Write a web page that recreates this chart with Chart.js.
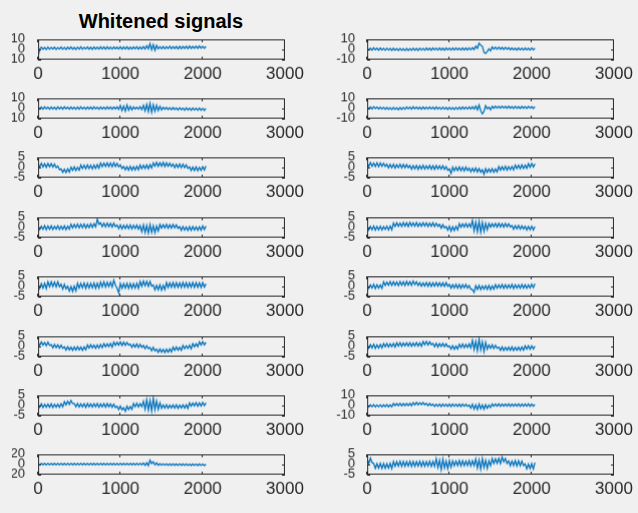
<!DOCTYPE html>
<html>
<head>
<meta charset="utf-8">
<title>Whitened signals</title>
<script src="https://cdn.jsdelivr.net/npm/chart.js@4.4.0/dist/chart.umd.min.js"></script>
<style>
  body { margin: 0; width: 638px; height: 513px; background: #f0f0f0; overflow: hidden; position: relative; }
  #title { position: absolute; left: 38px; width: 246px; top: 10px; text-align: center;
           font: bold 20px "Liberation Sans", Arial, sans-serif; color: #000; }
  canvas { position: absolute; }
</style>
</head>
<body>
<div id="title">Whitened signals</div>
<script>
// one value every 20 samples, subplot order is row by row (left, right)
const step = 20;
const xTicks = [0, 1000, 2000, 3000];
const yLims = [10, 10, 10, 10, 5, 5, 5, 5, 5, 5, 5, 5, 5, 10, 20, 5];

const w1 = [-7, 0.2, 2.0, 0.1, 1.8, -0.2, 2.2, 0.0, 1.9, 0.3, 2.1, -0.1, 1.7, 0.2, 2.3, 0.0, 1.9, -0.2, 2.0, 0.3,
  2.2, 0.1, 1.8, -0.1, 2.1, 0.2, 2.4, 0.0, 1.9, 0.4, 2.2, 0.1, 2.0, -0.1, 2.3, 0.3, 2.1, 0.2, 2.5, 0.4,
  2.2, 0.1, 2.4, 0.3, 2.0, 0.2, 2.3, 0.5, 2.1, 0.3, 2.4, 0.1, 2.2, 0.4, 2.5, 0.2, 2.0, 0.3, 2.3, 0.5,
  2.4, 0.2, 2.2, 0.4, 2.6, 0.3, 3.5, 0.5, 5.5, -0.5, 4.5, -1.0, 3.8, 0.5, 2.6, 0.6, 2.8, 0.5, 2.5, 0.7,
  2.9, 0.6, 2.6, 0.8, 2.8, 0.5, 3.0, 0.7, 2.7, 0.9, 2.9, 0.6, 3.1, 0.8, 2.8, 1.0, 3.0, 0.9, 3.2, 1.1,
  2.9, 1.0, 2.8];
const w2 = [1.3, -0.6, 1.1, -0.8, 1.4, -0.5, 1.0, -0.9, 1.2, -0.7, 0.9, -1.0, 1.1, -0.8, 0.8, -1.1, 1.0, -0.9, 0.7, -1.2,
  0.9, -1.0, 0.6, -1.3, 0.8, -1.1, 0.7, -1.0, 1.0, -0.9, 0.8, -1.1, 1.1, -0.8, 0.9, -1.0, 1.2, -0.7, 1.0, -0.9,
  1.3, -0.6, 1.1, -0.8, 1.2, -0.7, 1.0, -0.9, 1.3, -0.6, 1.1, -0.8, 1.2, -0.7, 1.4, -0.5, 1.1, -0.8, 1.3, -0.6,
  1.2, -0.7, 1.4, -0.5, 1.6, -0.2, 3.0, 1.0, 6.0, 4.0, 3.0, -3.0, -4.0, -2.0, 0.5, -1.5, 2.2, 0.2, 2.0, 0.0,
  2.1, 0.1, 1.8, -0.1, 1.9, 0.0, 1.5, -0.4, 1.3, -0.6, 1.1, -0.7, 1.3, -0.6, 1.1, -0.8, 1.2, -0.6, 1.0, -0.8,
  1.2, -0.6, 1.1];
const w3 = [1.4, -0.6, 1.2, -0.8, 1.5, -0.5, 1.1, -0.9, 1.3, -0.7, 1.0, -1.0, 1.4, -0.6, 1.2, -0.8, 1.5, -0.4, 1.1, -0.9,
  1.3, -0.7, 1.0, -1.0, 1.2, -0.8, 1.4, -0.6, 1.1, -0.9, 1.3, -0.7, 1.2, -0.8, 1.4, -0.6, 1.0, -1.0, 1.3, -0.7,
  1.1, -0.9, 1.4, -0.6, 1.2, -0.8, 1.3, -0.7, 1.5, -1.0, 2.8, -2.2, 2.2, -2.8, 3.2, -1.8, 1.8, -1.5, 1.3, -0.7,
  1.1, -0.9, 1.6, -1.2, 2.8, -2.5, 3.8, -3.2, 4.8, -4.0, 3.5, -3.0, 3.0, -2.2, 2.0, -1.5, 1.0, -1.0, 0.8, -1.2,
  0.6, -1.4, 0.8, -1.2, 0.4, -1.6, 0.6, -1.4, 0.2, -1.8, 0.4, -1.6, 0.1, -1.9, 0.3, -1.8, 0.0, -2.0, 0.2, -1.9,
  -0.1, -2.1, 0.0];
const w4 = [1.5, -0.4, 1.3, -0.6, 1.6, -0.3, 1.2, -0.7, 1.1, -0.8, 0.9, -1.0, 0.8, -1.1, 0.6, -1.3, 0.8, -1.1, 0.5, -1.4,
  0.7, -1.2, 0.9, -1.0, 1.3, -0.6, 1.1, -0.8, 1.5, -0.4, 1.2, -0.7, 1.0, -0.9, 1.2, -0.7, 1.1, -0.8, 1.3, -0.6,
  1.0, -0.9, 1.2, -0.7, 0.9, -1.0, 1.1, -0.8, 0.8, -1.1, 0.9, -1.0, 0.7, -1.2, 0.9, -1.0, 1.0, -0.9, 1.2, -0.7,
  1.1, -0.8, 1.3, -0.6, 1.5, -0.8, 2.2, -1.5, 3.2, -2.5, -5.5, -3.0, 2.5, -0.5, 1.0, -1.5, 1.8, 0.0, 2.0, 0.2,
  1.9, 0.1, 2.1, 0.2, 1.8, 0.0, 2.0, 0.1, 1.7, -0.1, 1.9, 0.0, 1.6, -0.2, 1.8, 0.0, 1.7, -0.1, 1.9, 0.1,
  1.6, -0.2, 1.7];
const w5 = [1.9, 0.1, 2.0, 0.2, 1.8, 0.0, 1.9, 0.2, 1.8, 0.1, 1.6, -0.2, 0.6, -1.2, -0.8, -2.5, -0.9, -2.6, -0.7, -2.4,
  0.1, -1.5, 0.2, -1.6, 0.0, -1.4, 1.1, -0.6, 1.0, -0.7, 1.2, -0.6, 1.0, -0.8, 1.1, -0.6, 1.3, -0.5, 2.1, 0.3,
  2.0, 0.4, 2.2, 0.3, 2.1, 0.2, 2.3, 0.4, 1.9, 0.2, 1.2, -0.6, 0.4, -1.3, 0.3, -1.4, 0.5, -1.4, 0.3, -1.3,
  0.5, -1.2, 1.1, -0.7, 1.0, -0.6, 1.2, -0.7, 1.3, -0.4, 2.2, 0.5, 2.4, 0.5, 2.3, 0.6, 2.4, 0.4, 2.2, 0.5,
  2.1, 0.4, 1.6, -0.2, 1.5, -0.1, 1.6, -0.2, 1.5, -0.2, 1.2, -0.6, 0.2, -1.6, 0.1, -1.6, 0.2, -1.7, 0.0, -1.5,
  0.3, -1.3, 0.6];
const w6 = [2.2, 0.4, 2.3, 0.5, 2.1, 0.4, 2.2, 0.3, 2.1, 0.5, 2.0, 0.4, 1.5, -0.3, 1.4, -0.2, 1.5, -0.4, 1.3, -0.2,
  1.5, -0.3, 1.4, -0.3, 1.3, -0.2, 0.9, -0.9, 0.8, -0.8, 0.9, -1.0, 0.8, -0.8, 1.0, -0.9, 0.7, -0.8, 0.9, -0.9,
  0.8, -1.0, 0.9, -0.8, 0.7, -0.9, 0.8, -1.0, 0.3, -1.5, -0.8, -3.0, 0.1, -1.7, 0.0, -1.6, 0.2, -1.7, 0.0, -1.8,
  0.1, -1.6, -0.4, -2.2, -0.5, -2.1, -0.3, -2.3, -0.6, -2.4, -1.2, -3.4, -0.7, -2.5, -0.8, -2.4, -0.6, -2.5, -0.8, -2.3,
  0.4, -1.4, 0.3, -1.3, 0.5, -1.4, 0.3, -1.2, 0.4, -1.3, 1.1, -0.6, 1.0, -0.7, 1.2, -0.6, 1.1, -0.5, 1.8, 0.0,
  1.9, 0.1, 1.7];
const w7 = [0.7, -1.1, 0.6, -1.0, 0.8, -1.2, 0.6, -1.0, 0.7, -1.1, 0.5, -0.9, 0.8, -1.1, 0.6, -1.0, 0.7, -1.2, 0.6, -0.9,
  1.5, -0.3, 1.4, -0.2, 1.6, -0.3, 1.5, -0.2, 1.6, -0.4, 1.4, -0.2, 1.7, -0.1, 1.8, 0.2, 4.0, 1.5, 2.2, 0.3,
  2.0, 0.2, 2.1, 0.3, 1.9, 0.1, 2.0, 0.3, 1.1, -0.7, 1.2, -0.8, 1.0, -0.6, 1.1, -0.7, 1.2, -0.8, 1.0, -0.6,
  1.1, -0.9, 0.8, -2.2, 1.2, -2.6, 0.9, -2.9, 1.4, -2.5, 0.8, -2.7, 0.6, -1.8, 1.4, -0.4, 1.3, -0.3, 1.5, -0.5,
  1.3, -0.4, 1.4, -0.3, 1.2, -0.5, 0.3, -1.5, 0.4, -1.4, 0.2, -1.6, 0.3, -1.5, 0.4, -1.4, 0.2, -1.5, 0.3, -1.4,
  0.7, -1.1, 0.6];
const w8 = [0.5, -1.3, 0.4, -1.2, 0.6, -1.4, 0.4, -1.2, 0.5, -1.3, 0.3, -1.1, 0.5, -1.3, 0.6, -1.2, 2.1, 0.4, 2.2, 0.5,
  2.1, 0.4, 2.3, 0.5, 2.2, 0.4, 2.4, 0.6, 2.2, 0.5, 2.3, 0.4, 2.1, 0.5, 2.3, 0.6, 2.2, 0.4, 2.1, 0.5,
  2.2, 0.4, 2.0, 0.5, 1.4, -0.4, 1.3, -0.3, 0.4, -1.4, 0.5, -1.9, 0.3, -1.6, 0.5, -1.3, 1.8, 0.0, 1.7, 0.1,
  1.9, 0.0, 1.7, 0.1, 3.4, -1.8, 2.6, -2.2, 2.9, -2.4, 2.4, -2.0, 2.0, -1.2, 1.9, 0.1, 1.8, 0.2, 1.9, 0.1,
  2.0, 0.2, 1.8, 0.1, 1.9, 0.2, 1.7, 0.2, 0.9, -0.9, 0.8, -0.8, 0.9, -0.9, 0.7, -0.8, 0.5, -1.3, 0.4, -1.2,
  0.5, -1.3, 0.4];
const w9 = [1.4, -1.0, 1.3, -0.9, 1.5, -1.1, 2.2, -0.2, 2.3, -0.1, 2.1, -0.3, 2.2, -0.2, 1.0, -1.4, 0.9, -1.3, 0.0, -2.4,
  -0.1, -2.5, 0.1, -2.3, 1.5, -0.9, 1.4, -0.8, 1.6, -1.0, 1.5, -0.9, 1.4, -0.8, 1.6, -1.0, 1.5, -0.9, 2.1, -0.3,
  2.2, -0.4, 2.0, -0.2, 2.1, -0.3, 3.0, 0.5, -1.0, -3.2, 1.4, -1.0, 1.3, -0.9, 1.5, -1.1, 1.4, -1.0, 1.3, -0.9,
  1.5, -1.0, 2.4, 0.0, 2.6, 0.2, 2.5, -0.1, 2.4, 0.0, 0.6, -1.8, 0.5, -1.7, 0.7, -1.9, 0.5, -1.6, 1.8, -0.6,
  1.7, -0.5, 1.9, -0.6, 1.8, -0.5, 1.7, -0.6, 1.9, -0.5, 1.8, -0.6, 1.7, -0.5, 1.9, -0.6, 1.8, -0.5, 1.7, -0.6,
  1.8, -0.4, 1.2];
const w10 = [0.8, -1.0, 0.7, -0.9, 0.9, -1.1, 0.8, -0.9, 0.7, -1.0, 2.2, 0.4, 2.1, 0.5, 2.3, 0.4, 2.2, 0.5, 2.1, 0.3,
  2.3, 0.5, 2.2, 0.4, 2.4, 0.6, 2.3, 0.5, 2.6, 0.8, 2.2, 0.4, 1.8, 0.0, 1.7, 0.1, 1.9, 0.0, 1.8, -0.1,
  1.7, 0.0, 1.9, 0.1, 1.8, 0.0, 1.7, -0.1, 1.8, 0.0, 0.9, -0.9, 0.8, -0.8, 1.0, -0.9, 0.9, -1.0, 0.8, -0.8,
  0.9, -0.9, 0.4, -1.4, -1.6, -3.0, 0.3, -1.5, 0.4, -1.6, 0.2, -1.4, 0.3, -1.5, 0.4, -1.6, 0.2, -1.4, 0.8, -1.0,
  0.7, -0.9, 0.9, -1.0, 0.8, -1.0, 0.7, -0.9, 0.9, -1.1, 0.8, -0.9, 0.7, -1.0, 0.9, -0.9, 0.8, -1.0, 0.7, -0.9,
  1.0, -0.7, 1.3];
const w11 = [2.0, 0.4, 2.2, 0.6, 1.9, 0.3, 2.0, 0.4, 0.8, -0.8, 0.9, -0.7, 0.7, -0.9, 0.6, -1.0, -0.3, -1.9, -0.2, -1.8,
  -0.4, -2.0, -0.3, -1.9, -0.2, -1.8, -0.4, -2.0, -0.3, -1.7, 0.7, -0.9, 0.8, -0.8, 0.6, -1.0, 0.7, -0.9, 0.9, -0.7,
  1.3, -0.3, 1.2, -0.2, 1.4, -0.4, 2.1, 0.5, 2.0, 0.6, 2.2, 0.4, 2.1, 0.5, 1.9, 0.6, 1.1, -0.5, 1.0, -0.4,
  1.2, -0.6, 1.0, -0.5, 0.4, -1.2, 0.3, -1.1, -0.6, -2.2, -0.5, -2.3, -1.4, -3.0, -1.3, -2.9, -1.5, -3.1, -1.4, -2.9,
  -1.3, -2.8, -0.4, -2.0, -0.3, -1.9, -0.5, -2.0, 0.4, -1.2, 0.3, -1.1, 0.5, -1.2, 1.3, -0.3, 1.2, -0.2, 2.2, 0.6,
  2.3, 0.7, 2.0];
const w12 = [0.9, -0.9, 0.8, -0.8, 1.0, -1.0, 0.7, -0.9, 0.9, -0.8, 1.3, -0.3, 1.4, -0.4, 1.2, -0.2, 1.4, -0.4, 1.7, 0.1,
  1.8, 0.0, 1.6, 0.2, 1.7, 0.1, 1.8, 0.0, 1.6, 0.2, 1.8, 0.1, 1.7, 0.0, 2.3, 0.7, 2.4, 0.6, 2.2, 0.8,
  1.4, -0.2, 1.5, -0.3, 1.3, -0.1, 1.4, -0.2, 1.2, -0.3, 0.2, -1.4, 0.3, -1.5, 0.1, -1.3, 1.0, -0.6, 1.1, -0.7,
  0.9, -0.6, 1.2, -0.8, 3.0, -1.6, 2.4, -2.2, 3.6, -1.8, 2.2, -2.6, 2.0, -1.4, 0.6, -1.0, 0.7, -1.1, 0.5, -1.0,
  -0.4, -2.0, -0.3, -2.1, -0.5, -1.9, -0.4, -2.0, -0.3, -2.1, -0.5, -1.9, -0.4, -2.0, -0.3, -1.9, 0.2, -1.4, 0.3, -1.5,
  0.2, -1.3, 0.1];
const w13 = [0.6, -1.0, 0.7, -1.1, 0.5, -0.9, 0.6, -1.0, 0.7, -1.1, 0.5, -0.9, 0.6, -1.0, 0.8, -0.8, 1.8, 0.2, 2.0, 0.4,
  2.4, 0.8, 0.8, -0.8, 0.9, -0.9, 0.7, -0.8, 0.8, -1.0, 0.9, -0.8, 0.7, -0.9, 0.8, -0.8, 0.9, -1.0, 0.7, -0.8,
  0.8, -0.9, 0.9, -0.8, 0.7, -1.0, 0.6, -1.1, -0.5, -2.1, -0.4, -2.2, -1.2, -3.0, -0.5, -2.1, -0.6, -2.0, 0.9, -0.7,
  1.0, -0.8, 0.8, -0.7, 2.0, -2.0, 2.8, -2.4, 2.4, -2.8, 3.6, -2.2, 2.2, -2.0, 1.2, -1.5, 0.2, -1.4, 0.3, -1.5,
  0.1, -1.3, 0.2, -1.4, 0.3, -1.5, 0.1, -1.3, 0.2, -1.4, 0.3, -1.5, 1.2, -0.4, 1.1, -0.3, 1.3, -0.5, 1.2, -0.4,
  1.4, -0.2, 1.2];
const w14 = [0.6, -1.6, 0.5, -1.5, 0.7, -1.7, 0.4, -1.5, 0.6, -1.6, 0.5, -1.4, 0.7, -1.6, 0.5, -1.5, 1.8, -0.4, 1.7, -0.3,
  1.9, -0.5, 1.8, -0.4, 1.7, -0.3, 1.9, -0.4, 2.7, 0.5, 2.8, 0.4, 2.6, 0.6, 2.7, 0.5, 1.9, -0.3, 1.8, -0.2,
  1.1, -1.1, 1.0, -1.0, 1.2, -1.2, 1.1, -1.0, 1.0, -1.1, 1.2, -1.2, 1.1, -1.0, 1.0, -1.1, 1.2, -1.2, 1.1, -1.0,
  1.0, -1.1, 0.2, -2.8, 1.0, -3.8, 0.5, -4.2, 1.2, -3.5, 0.4, -3.8, 0.6, -3.0, 0.2, -2.2, 1.3, -0.9, 1.2, -0.8,
  1.4, -1.0, 1.3, -0.9, 1.2, -0.8, 1.4, -1.0, 1.3, -0.9, 1.2, -0.8, 1.4, -1.0, 1.3, -0.9, 1.2, -0.8, 1.4, -1.0,
  1.3, -0.9, 1.0];
const w15 = [1.8, -1.2, 1.9, -1.1, 1.7, -1.3, 1.8, -1.2, 1.9, -1.1, 1.7, -1.3, 1.8, -1.2, 1.9, -1.1, 1.7, -1.3, 1.8, -1.2,
  1.9, -1.1, 1.7, -1.3, 1.8, -1.2, 1.9, -1.1, 1.7, -1.3, 1.8, -1.2, 1.9, -1.1, 1.7, -1.3, 1.8, -1.2, 1.9, -1.1,
  1.7, -1.3, 1.8, -1.2, 1.9, -1.1, 1.7, -1.3, 1.8, -1.2, 1.9, -1.1, 1.7, -1.3, 1.8, -1.2, 1.9, -1.1, 1.7, -1.3,
  1.8, -1.2, 1.9, -1.1, 2.5, -2.0, 3.0, -2.5, 8.0, 1.5, 5.0, -1.0, 3.0, -2.0, 1.2, -1.8, 1.1, -1.9, 1.0, -2.0,
  1.0, -2.0, 0.9, -2.1, 0.8, -2.2, 0.9, -2.1, 0.7, -2.3, 0.8, -2.2, 0.6, -2.4, 0.7, -2.3, 0.5, -2.5, 0.6, -2.4,
  0.4, -2.6, 0.3];
const w16 = [2.6, 0.4, 3.0, 0.8, 0.4, -2.0, 0.3, -1.9, 0.5, -2.1, 0.4, -2.0, 0.3, -1.9, 0.5, -2.1, 1.4, -1.0, 1.3, -0.9,
  1.5, -1.1, 1.4, -1.0, 1.3, -0.9, 1.5, -1.1, 1.4, -1.0, 1.3, -0.9, 1.5, -1.1, 1.4, -1.0, 1.3, -0.9, 1.5, -1.1,
  1.4, -1.0, 2.8, -1.5, 2.0, -2.6, 2.6, -1.8, 1.6, -2.2, 1.8, -1.4, 1.7, -0.7, 1.6, -0.6, 1.8, -0.8, 1.7, -0.7,
  1.6, -0.6, 1.8, -0.8, 1.7, -0.7, 2.6, -1.8, 2.2, -2.4, 2.8, -1.6, 2.0, -2.0, 1.7, -0.7, 2.8, 0.4, 2.7, 0.5,
  2.9, 0.3, 3.6, 1.2, 2.8, 0.4, 1.7, -0.7, 1.6, -0.6, 1.8, -0.8, 1.7, -0.7, 1.6, -0.6, 0.2, -2.2, 0.1, -2.1,
  0.3, -2.3, 0.8];

const signals = [w1, w2, w3, w4, w5, w6, w7, w8, w9, w10, w11, w12, w13, w14, w15, w16];

Chart.defaults.font.family = "'Liberation Sans', Arial, sans-serif";
Chart.defaults.color = '#262626';

// layout of the 8x2 grid of axes (page pixels)
const axW = 246, axH = 20;
const axLeft = [38, 367];
const canvasLeft = [12, 320];
const rowTop = [39, 98, 157, 217, 276, 336, 395, 454];
const xAxisH = 26;

// matlab style box with inward ticks
const boxPlugin = {
  id: 'box',
  afterDraw(chart) {
    const ctx = chart.ctx, a = chart.chartArea;
    const sx = chart.scales.x, sy = chart.scales.y;
    const l = Math.round(a.left), t = Math.round(a.top), r = Math.round(a.right), b = Math.round(a.bottom);
    ctx.save();
    ctx.strokeStyle = '#262626';
    ctx.lineWidth = 1;
    ctx.strokeRect(l + 0.5, t + 0.5, r - l - 1, b - t - 1);
    ctx.beginPath();
    sx.ticks.forEach(tk => {
      const px = Math.round(sx.getPixelForValue(tk.value)) - 0.5;
      ctx.moveTo(px, t); ctx.lineTo(px, t + 3);
      ctx.moveTo(px, b); ctx.lineTo(px, b - 3);
    });
    sy.ticks.forEach(tk => {
      const py = Math.round(sy.getPixelForValue(tk.value)) + 0.5;
      ctx.moveTo(l, py); ctx.lineTo(l + 3, py);
      ctx.moveTo(r, py); ctx.lineTo(r - 3, py);
    });
    ctx.stroke();
    ctx.restore();
  }
};

signals.forEach((sig, k) => {
  const row = Math.floor(k / 2), col = k % 2;
  const lim = yLims[k];
  const yAxisW = axLeft[col] - canvasLeft[col];
  const cv = document.createElement('canvas');
  cv.width = yAxisW + axW + 25;
  cv.height = 8 + axH + xAxisH;
  cv.style.left = canvasLeft[col] + 'px';
  cv.style.top = (rowTop[row] - 8) + 'px';
  document.body.appendChild(cv);

  const chart = new Chart(cv, {
    type: 'line',
    data: {
      datasets: [{
        data: sig.map((v, i) => ({ x: i * step, y: v })),
        borderColor: '#0072bd',
        borderWidth: 1.3,
        pointRadius: 0,
        tension: 0
      }]
    },
    options: {
      responsive: false,
      maintainAspectRatio: false,
      animation: false,
      events: [],
      layout: { padding: 0 },
      plugins: { legend: { display: false }, tooltip: { enabled: false } },
      scales: {
        x: {
          type: 'linear', min: 0, max: 3000,
          afterBuildTicks: s => { s.ticks = xTicks.map(v => ({ value: v })); },
          afterFit: s => { s.height = xAxisH; },
          grid: { display: false, drawTicks: false },
          border: { display: false },
          ticks: { font: { size: 17 }, padding: 4, maxRotation: 0, autoSkip: false, callback: v => String(v) }
        },
        y: {
          min: -lim, max: lim,
          afterBuildTicks: s => { s.ticks = [-lim, 0, lim].map(v => ({ value: v })); },
          afterFit: s => { s.width = yAxisW; },
          grid: { display: false, drawTicks: false },
          border: { display: false },
          ticks: { font: { size: 13 }, padding: col ? 12 : 13, autoSkip: false, callback: v => String(v) }
        }
      }
    },
    plugins: [boxPlugin]
  });

  // grow the canvas so the plot area is exactly axW x axH, then place it
  const a = chart.chartArea;
  chart.resize(cv.width + axW - (a.right - a.left), cv.height + axH - (a.bottom - a.top));
  const b = chart.chartArea;
  cv.style.left = (axLeft[col] - b.left) + 'px';
  cv.style.top = (rowTop[row] - b.top) + 'px';
});
</script>
</body>
</html>
